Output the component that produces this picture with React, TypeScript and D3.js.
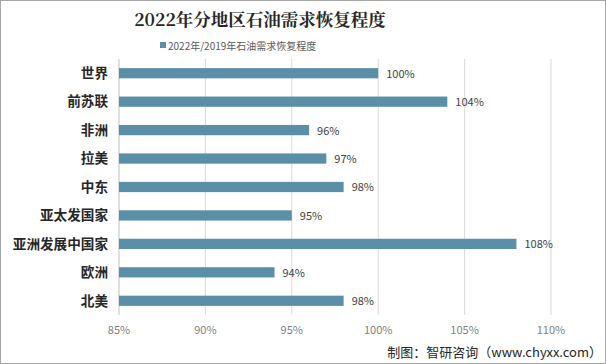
import React from "react";
import * as d3 from "d3";

const categories = ["世界", "前苏联", "非洲", "拉美", "中东", "亚太发国家", "亚洲发展中国家", "欧洲", "北美"];
const values = [100, 104, 96, 97, 98, 95, 108, 94, 98];
const xTicks = [85, 90, 95, 100, 105, 110];
const title = "2022年分地区石油需求恢复程度";
const legendLabel = "2022年/2019年石油需求恢复程度";
const source = "制图：智研咨询（www.chyxx.com）";

const W = 606;
const H = 364;
const plot = { left: 119, right: 551, top: 59, bottom: 315 };
const barColor = "#5b8fa8";

export default function App() {
  const x = d3.scaleLinear().domain([85, 110]).range([plot.left, plot.right]);
  const y = d3.scaleBand<string>().domain(categories).range([plot.top, plot.bottom]).paddingInner(0.64).paddingOuter(0.32);
  const sans = "'Microsoft YaHei', 'Noto Sans CJK SC', 'DejaVu Sans', sans-serif";
  return (
    <svg width={W} height={H} style={{ position: "absolute", left: 0, top: 0, background: "#fff" }}>
      <rect x={0.5} y={0.5} width={W - 1} height={H - 1} fill="#fff" stroke="#a6a6a6" />
      <text x={260} y={26} textAnchor="middle" fontFamily="'Noto Serif CJK SC', 'Noto Sans CJK SC', serif" fontWeight="bold" fontSize={17.5} fill="#262626">{title}</text>
      <rect x={160} y={42} width={6} height={6} fill={barColor} />
      <text x={168} y={50} fontFamily={sans} fontSize={10} fill="#595959">{legendLabel}</text>
      {xTicks.map((t) => (
        <line key={t} x1={x(t)} x2={x(t)} y1={plot.top} y2={plot.bottom} stroke={t === 85 ? "#bfbfbf" : "#d9d9d9"} strokeWidth={1} />
      ))}
      {categories.map((c, i) => (
        <g key={c}>
          <rect x={x(85)} y={y(c)} width={x(values[i]) - x(85)} height={y.bandwidth()} fill={barColor} />
          <text x={108} y={(y(c) as number) + y.bandwidth() / 2} dy="0.35em" textAnchor="end" fontFamily={sans} fontWeight="bold" fontSize={13.6} fill="#262626">{c}</text>
          <text x={x(values[i]) + 8} y={(y(c) as number) + y.bandwidth() / 2} dy="0.4em" fontFamily={sans} fontSize={11} fill="#404040">{values[i]}%</text>
        </g>
      ))}
      {xTicks.map((t) => (
        <text key={t} x={x(t)} y={334} textAnchor="middle" fontFamily={sans} fontSize={11} fill="#7f7f7f">{t}%</text>
      ))}
      <text x={602} y={357} textAnchor="end" fontFamily={sans} fontSize={13} fill="#262626">{source}</text>
    </svg>
  );
}
